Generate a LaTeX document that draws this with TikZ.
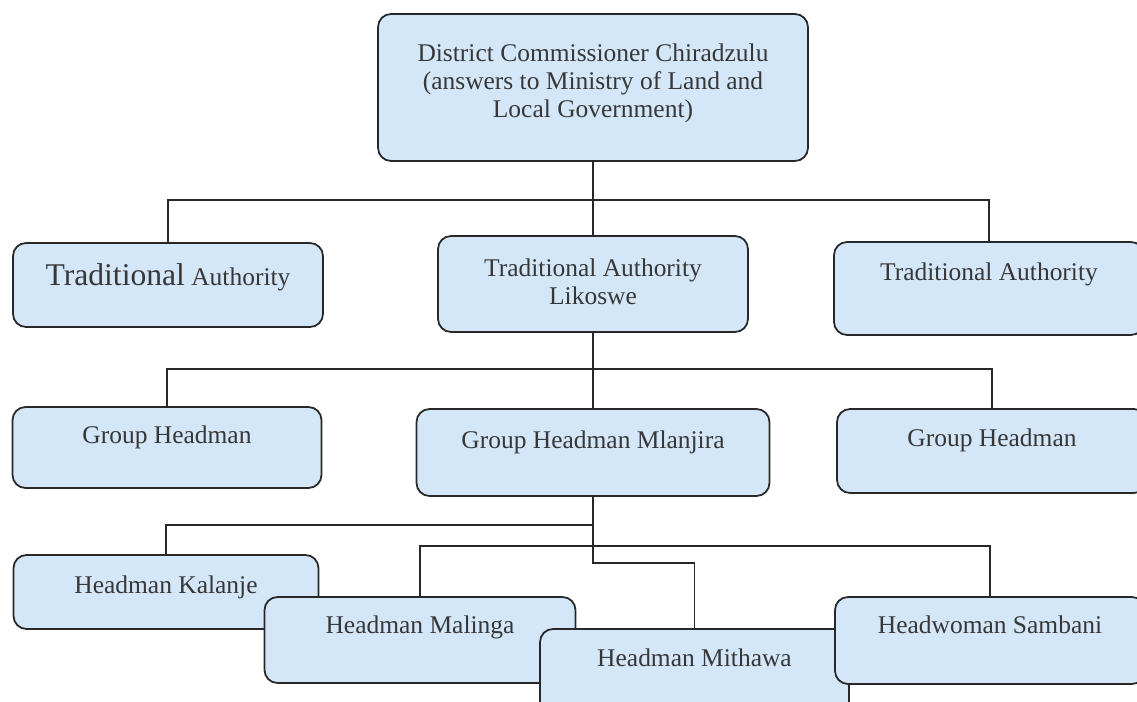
\documentclass[tikz,border=0pt]{standalone}
\usepackage{fontspec}
\setmainfont{Liberation Serif}
\usepackage{tikz}

\definecolor{boxfill}{RGB}{212,231,248}
\definecolor{boxline}{RGB}{40,40,40}
\definecolor{txtgray}{RGB}{55,55,55}
\newcommand{\boxtext}[2]{\raisebox{#1}[0pt][0pt]{\begin{tabular}{@{}c@{}}#2\end{tabular}}}

\begin{document}
\begin{tikzpicture}[x=0.02cm,y=-0.02cm,
  orgbox/.style={rectangle, draw=boxline, fill=boxfill, rounded corners=0.26cm, line width=1pt, inner sep=0pt, text=txtgray},
  link/.style={-, line width=0.7pt, draw=boxline}]\fontsize{14.5}{15.8}\selectfont
\useasboundingbox (0,0) rectangle (1137,702);

\node[orgbox, minimum width=8.6cm, minimum height=2.94cm] (dc) at (593,87.5){\boxtext{-0.06cm}{District Commissioner Chiradzulu\\(answers to Ministry of Land and\\Local Government)}};
\node[orgbox, minimum width=6.2cm, minimum height=1.68cm] (ta1) at (168,285){\boxtext{0.0cm}{{\fontsize{18}{20}\selectfont Traditional} Authority}};
\node[orgbox, minimum width=6.2cm, minimum height=1.92cm] (ta2) at (593,284){\boxtext{-0.15cm}{Traditional Authority\\Likoswe}};
\node[orgbox, minimum width=6.2cm, minimum height=1.86cm] (ta3) at (989,288.5){\boxtext{0.14cm}{Traditional Authority}};

\node[orgbox, minimum width=6.18cm, minimum height=1.62cm] (gh1) at (167,447.5){\boxtext{0.06cm}{Group Headman}};
\node[orgbox, minimum width=7.06cm, minimum height=1.74cm] (gh2) at (593,452.5){\boxtext{0.06cm}{Group Headman Mlanjira}};
\node[orgbox, minimum width=6.2cm, minimum height=1.68cm] (gh3) at (992,451){\boxtext{0.07cm}{Group Headman}};

\node[orgbox, minimum width=6.1cm, minimum height=1.48cm] (hk) at (166,592){\boxtext{-0.05cm}{Headman Kalanje}};
\node[orgbox, minimum width=6.22cm, minimum height=1.72cm] (hm) at (420,640){\boxtext{0.11cm}{Headman Malinga}};
\node[orgbox, minimum width=6.18cm, minimum height=1.72cm] (hmi) at (694.5,672){\boxtext{0.1cm}{Headman Mithawa}};
\node[orgbox, minimum width=6.2cm, minimum height=1.74cm] (hs) at (990,640.5){\boxtext{0.12cm}{Headwoman Sambani}};

% bus lines
\coordinate (bus1) at (593,200);
\coordinate (bus2) at (593,369);
\coordinate (bus3) at (593,525);
\coordinate (bus4) at (593,546);
\coordinate (jog) at (593,563);

\draw[link] (dc) -- (ta2);
\draw[link] (ta1.north) |- (bus1) -| (ta3.north);
\draw[link] (ta2.south) -- (gh2.north);
\draw[link] (gh1.north) |- (bus2) -| (gh3.north);
\draw[link] (gh2.south) -- (jog) -| (hmi.north);
\draw[link] (hk.north) |- (bus3);
\draw[link] (hm.north) |- (bus4) -| (hs.north);

\end{tikzpicture}
\end{document}
